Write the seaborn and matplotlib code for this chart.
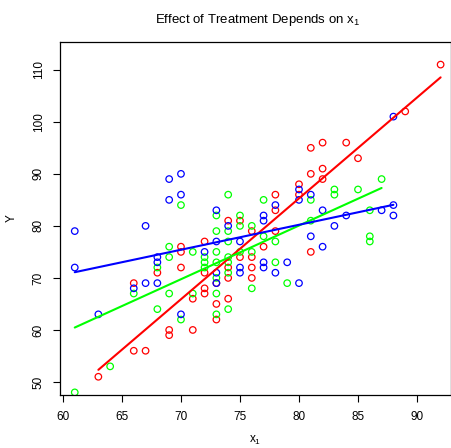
import matplotlib
matplotlib.use("Agg")
import matplotlib.pyplot as plt
import seaborn as sns
import pandas as pd

# ---- data ----
red_x = [63, 66, 66, 67, 68, 69, 69, 70, 70, 70, 71, 71, 72, 72, 72, 72, 73, 73, 73,
         74, 74, 74, 74, 75, 75, 76, 76, 76, 76, 77, 78, 78, 78, 80, 80, 81, 81, 81,
         82, 82, 82, 84, 85, 89, 92]
red_y = [51, 69, 56, 56, 71, 60, 59, 76, 75, 72, 66, 60, 77, 71, 68, 67, 69, 65, 62,
         81, 72, 70, 66, 81, 74, 79, 74, 72, 70, 76, 86, 83, 79, 88, 86, 95, 90, 75,
         96, 91, 89, 96, 93, 102, 111]

green_x = [61, 64, 66, 68, 68, 69, 69, 69, 70, 70, 71, 71, 72, 72, 72, 73, 73, 73, 73,
           73, 73, 73, 74, 74, 74, 74, 74, 74, 74, 75, 75, 75, 76, 76, 76, 77, 77, 78,
           78, 79, 81, 81, 83, 83, 85, 86, 86, 86, 87]
green_y = [48, 53, 67, 72, 64, 76, 74, 67, 84, 62, 75, 67, 74, 73, 72, 82, 79, 75, 73,
           70, 67, 63, 86, 79, 77, 74, 73, 71, 64, 82, 80, 75, 80, 75, 68, 85, 78, 77,
           73, 69, 85, 81, 87, 86, 87, 83, 78, 77, 89]

blue_x = [61, 61, 63, 66, 67, 67, 68, 68, 68, 69, 69, 70, 70, 70, 72, 73, 73, 73, 73,
          74, 75, 75, 75, 77, 77, 77, 77, 78, 78, 79, 80, 80, 80, 81, 81, 82, 82, 83,
          84, 87, 88, 88, 88]
blue_y = [79, 72, 63, 68, 80, 69, 74, 73, 69, 89, 85, 90, 86, 63, 75, 83, 77, 71, 69,
          80, 77, 72, 71, 82, 81, 73, 72, 84, 71, 73, 87, 85, 69, 86, 78, 83, 76, 80,
          82, 83, 101, 84, 82]

groups = ["red", "green", "blue"]
colors = {"red": "#FF0000", "green": "#00FF00", "blue": "#0000FF"}

x_ticks = [60, 65, 70, 75, 80, 85, 90]
y_ticks = [50, 60, 70, 80, 90, 100, 110]

df = pd.concat([
    pd.DataFrame({"x1": red_x, "Y": red_y, "group": "red"}),
    pd.DataFrame({"x1": green_x, "Y": green_y, "group": "green"}),
    pd.DataFrame({"x1": blue_x, "Y": blue_y, "group": "blue"}),
], ignore_index=True)

sns.set_style("white")
plt.rcParams["font.family"] = ["Liberation Sans", "DejaVu Sans"]
plt.rcParams["mathtext.fontset"] = "custom"
plt.rcParams["mathtext.rm"] = "Liberation Sans"
plt.rcParams["mathtext.it"] = "Liberation Sans"
plt.rcParams["text.color"] = "black"
plt.rcParams["axes.labelcolor"] = "black"
plt.rcParams["xtick.color"] = "black"
plt.rcParams["ytick.color"] = "black"

fig = plt.figure(figsize=(4.52, 4.48), dpi=100)
ax = fig.add_axes([60 / 452, (448 - 395.3) / 448, (451 - 60) / 452, (395.3 - 41.7) / 448])

for g in groups:
    sub = df[df["group"] == g]
    ax.scatter(sub["x1"], sub["Y"], s=22, facecolors="none",
               edgecolors=colors[g], linewidths=0.9, zorder=2)

for g in groups:
    sub = df[df["group"] == g]
    sns.regplot(data=sub, x="x1", y="Y", scatter=False, ci=None, ax=ax,
                color=colors[g], line_kws={"linewidth": 1.5, "zorder": 3},
                truncate=True)

ax.set_xlim(59.75, 92.88)
ax.set_ylim(47.44, 115.4)
ax.set_xticks(x_ticks)
ax.set_yticks(y_ticks)
ax.set_xticklabels([str(t) for t in x_ticks], fontsize=8.5)
ax.set_yticklabels([str(t) for t in y_ticks], fontsize=8.5, rotation=90, va="center")
ax.tick_params(axis="both", direction="out", length=5, width=0.8, colors="black",
               pad=6, bottom=True, left=True)
for sp in ax.spines.values():
    sp.set_color("black")
    sp.set_linewidth(0.9)

ax.set_xlabel(r"x$\mathregular{_1}$", fontsize=8.5, labelpad=8, color="black")
ax.set_ylabel("Y", fontsize=8.5, labelpad=11, color="black")
fig.text(258 / 452, 1 - 20 / 448, r"Effect of Treatment Depends on x$\mathregular{_1}$",
         ha="center", va="center", fontsize=9.5, color="black")

fig.savefig("out.png", dpi=100)
